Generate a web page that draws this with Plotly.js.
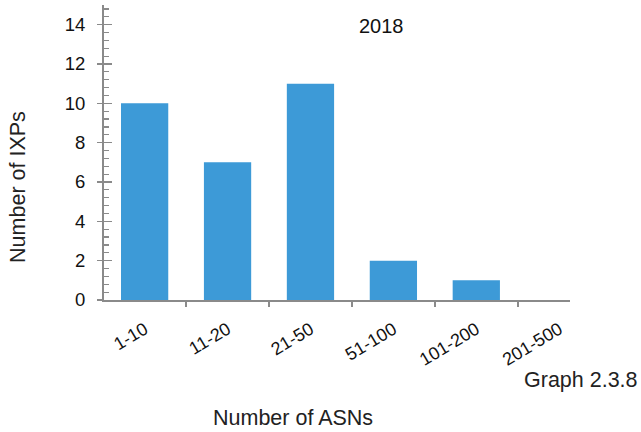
<!DOCTYPE html>
<html><head><meta charset="utf-8">
<script src="https://cdn.plot.ly/plotly-3.0.1.min.js"></script>
<style>html,body{margin:0;padding:0;background:#fff}</style>
</head><body><div id="chart" style="width:641px;height:432px"></div>
<script>
const categories = ["1-10", "11-20", "21-50", "51-100", "101-200", "201-500"];
const ixps = [10, 7, 11, 2, 1, 0];
const yTicks = [0, 2, 4, 6, 8, 10, 12, 14];

const fontFam = "Liberation Sans, Arial, Helvetica, sans-serif";
const axisCol = "#8a8a8a";

const data = [{
  type: "bar", x: categories, y: ixps,
  marker: {color: "#3d9ad7", line: {width: 0}},
  width: 0.57, hoverinfo: "none"
}];

const layout = {
  width: 641, height: 432,
  margin: {l: 104, r: 71, t: 5, b: 132},
  paper_bgcolor: "#fff", plot_bgcolor: "#fff",
  showlegend: false,
  font: {family: fontFam, size: 18, color: "#111"},
  xaxis: {
    type: "category", range: [-0.49, 5.13],
    tickson: "boundaries", ticks: "outside", ticklen: 5, tickwidth: 1.5, tickcolor: axisCol,
    showline: true, linecolor: axisCol, linewidth: 2,
    showgrid: false, zeroline: false, tickangle: -31,
    ticklabelstandoff: 10,
    tickfont: {family: fontFam, size: 18, color: "#111"}
  },
  yaxis: {
    range: [0, 15], tickvals: yTicks, ticks: "outside", ticklen: 5, tickwidth: 1.5, tickcolor: axisCol,
    showline: true, linecolor: axisCol, linewidth: 2,
    showgrid: false, zeroline: false,
    ticklabelstandoff: 8,
    tickfont: {family: fontFam, size: 18.5, color: "#111"}
  },
  yaxis2: {
    overlaying: "y", side: "left", range: [0, 15], tickvals: yTicks,
    ticks: "inside", ticklen: 8, tickwidth: 1.5, tickcolor: axisCol,
    showticklabels: false, showline: false, showgrid: false, zeroline: false,
    minor: {dtick: 0.4, tick0: 0, ticks: "inside", ticklen: 5, tickwidth: 1.2, tickcolor: axisCol, showgrid: false}
  },
  annotations: [
    {text: "2018", xref: "paper", yref: "paper", x: 0.596, y: 0.928, xanchor: "center", yanchor: "middle", showarrow: false, font: {size: 20, color: "#111"}},
    {text: "Graph 2.3.8", xref: "paper", yref: "paper", x: 1.15, y: -0.271, xanchor: "right", yanchor: "middle", showarrow: false, font: {size: 21.5, color: "#222"}},
    {text: "Number of ASNs", xref: "paper", yref: "paper", x: 0.406, y: -0.4, xanchor: "center", yanchor: "middle", showarrow: false, font: {size: 21.5, color: "#222"}},
    {text: "Number of IXPs", xref: "paper", yref: "paper", x: -0.1835, y: 0.385, xanchor: "center", yanchor: "middle", textangle: -90, showarrow: false, font: {size: 21.5, color: "#222"}}
  ]
};

const trace2 = {type: "scatter", x: [], y: [], yaxis: "y2", hoverinfo: "none"};
Plotly.newPlot("chart", data.concat([trace2]), layout, {displayModeBar: false, staticPlot: true});
</script></body></html>
